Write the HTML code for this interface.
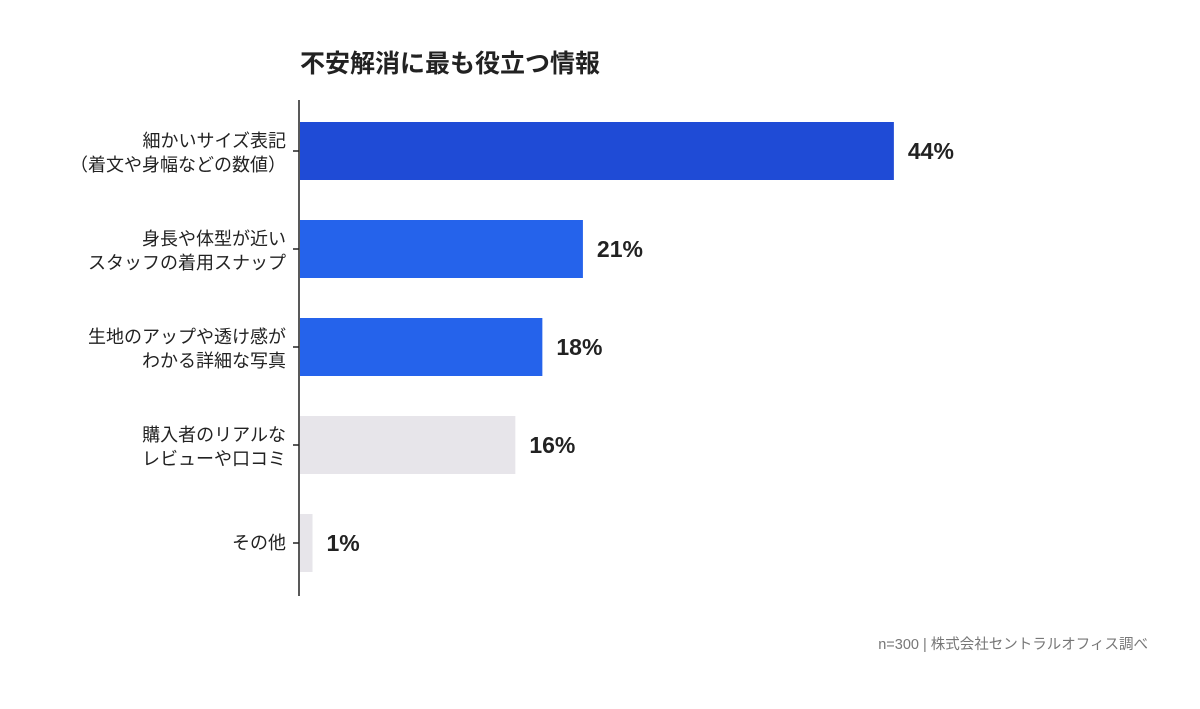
<!DOCTYPE html>
<html><head><meta charset="utf-8"><style>
body{margin:0;background:#fff;}
svg text{font-family:"Liberation Sans","Noto Sans CJK JP",sans-serif;}
</style></head><body>
<svg id="chart" width="1200" height="704" viewBox="0 0 1200 704" xmlns="http://www.w3.org/2000/svg">
<rect width="1200" height="704" fill="#fff"/>
<text x="300" y="72" font-size="25" font-weight="bold" fill="#222">不安解消に最も役立つ情報</text>
<line x1="299" y1="100" x2="299" y2="596" stroke="#222" stroke-width="1.5"/>
<g id="bars"></g>
<text x="1148" y="649" font-size="14.5" fill="#777" text-anchor="end">n=300 | 株式会社セントラルオフィス調べ</text>
</svg>
<script>
const labels1 = ["細かいサイズ表記","身長や体型が近い","生地のアップや透け感が","購入者のリアルな","その他"];
const labels2 = ["（着文や身幅などの数値）","スタッフの着用スナップ","わかる詳細な写真","レビューや口コミ",""];
const values = [44,21,18,16,1];
const colors = ["#1f4bd6","#2563eb","#2563eb","#e7e5ea","#e7e5ea"];
const x0 = 299, pxPer = 13.52, top0 = 122, step = 98, bh = 58;
function xs(v){return x0 + v*pxPer;}
function ys(i){return top0 + i*step;}
const g = document.getElementById('bars');
const NS = "http://www.w3.org/2000/svg";
values.forEach((v,i)=>{
  const y = ys(i), cy = y + bh/2;
  const r = document.createElementNS(NS,'rect');
  r.setAttribute('x', x0+1); r.setAttribute('y', y);
  r.setAttribute('width', xs(v)-x0-1); r.setAttribute('height', bh);
  r.setAttribute('fill', colors[i]);
  
  
  g.appendChild(r);
  const t = document.createElementNS(NS,'line');
  t.setAttribute('x1', 293); t.setAttribute('x2', 299); t.setAttribute('y1', cy); t.setAttribute('y2', cy);
  t.setAttribute('stroke', '#222'); t.setAttribute('stroke-width', 1.5);
  
  
  g.appendChild(t);
  const vl = document.createElementNS(NS,'text');
  vl.setAttribute('x', xs(v)+14); vl.setAttribute('y', cy+8);
  vl.setAttribute('font-size', 23); vl.setAttribute('font-weight', 'bold'); vl.setAttribute('fill', '#222');
  vl.textContent = v + '%';
  
  
  g.appendChild(vl);
  const lab = document.createElementNS(NS,'text');
  lab.setAttribute('x', 286); lab.setAttribute('font-size', 18); lab.setAttribute('fill', '#222');
  lab.setAttribute('text-anchor', 'end');
  
  
  if (labels2[i]) {
    lab.setAttribute('y', cy-4);
    lab.textContent = labels1[i];
    const l2 = document.createElementNS(NS,'text');
    l2.setAttribute('x', 286); l2.setAttribute('y', cy+20); l2.setAttribute('font-size', 18); l2.setAttribute('fill', '#222');
    l2.setAttribute('text-anchor', 'end');
    l2.textContent = labels2[i];
    
    
    g.appendChild(l2);
  } else {
    lab.setAttribute('y', cy+6);
    lab.textContent = labels1[i];
  }
  g.appendChild(lab);
});
</script>
</body></html>
